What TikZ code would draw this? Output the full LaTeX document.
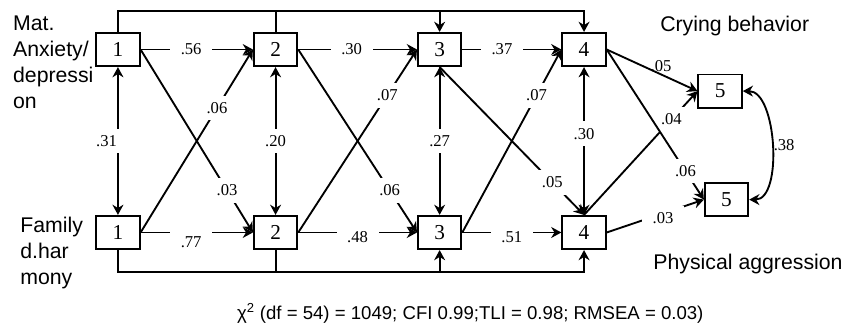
\documentclass[tikz,border=0pt]{standalone}
\usepackage{fontspec}
\setmainfont{Liberation Serif}
\setsansfont{Liberation Sans}
\usetikzlibrary{arrows.meta}

\begin{document}
\begin{tikzpicture}[
    >={Stealth[length=2.7mm, width=2.9mm]},
    wave/.style={draw, line width=1.4pt, minimum width=1.15cm, minimum height=0.88cm, inner sep=0pt, font=\fontsize{16}{19}\selectfont},
    link/.style={->, line width=1.4pt},
    coef/.style={fill=white, inner xsep=8pt, inner ysep=5pt, font=\fontsize{12.5}{15}\selectfont},
    caption/.style={font=\sffamily\fontsize{16}{19.5}\selectfont, align=left, inner sep=0pt},
]
    \useasboundingbox (0,0) rectangle (22.38,8.65);
    \coordinate (topbar) at (0, 8.36);
    \coordinate (botbar) at (0, 1.455);

    % measurement waves
    \node[wave] (anx1) at (3.12, 7.34) {1};
    \node[wave] (anx2) at (7.29, 7.34) {2};
    \node[wave] (anx3) at (11.63, 7.34) {3};
    \node[wave] (anx4) at (15.45, 7.34) {4};
    \node[wave] (har1) at (3.12, 2.50) {1};
    \node[wave] (har2) at (7.29, 2.50) {2};
    \node[wave] (har3) at (11.63, 2.50) {3};
    \node[wave] (har4) at (15.45, 2.50) {4};
    \node[wave] (cry) at (19.05, 6.24) {5};
    \node[wave] (agg) at (19.22, 3.37) {5};

    % variable names and fit
    \node[caption, anchor=north west] (anxlab) at (0.34, 8.23) {Mat.\\Anxiety/\\depressi\\on};
    \node[caption, anchor=north west] (harlab) at (0.53, 2.92) {Family\\d.har\\mony};
    \node[caption, anchor=base west] (crylab) at (17.46, 7.82) {Crying behavior};
    \node[caption, anchor=base west] (agglab) at (17.28, 1.51) {Physical aggression};
    \node[caption, anchor=base, font=\sffamily\fontsize{14}{17}\selectfont] (fitlab) at (12.44, 0.19) {χ\textsuperscript{2} (df = 54) = 1049; CFI 0.99;TLI = 0.98; RMSEA = 0.03)};

    % second-order paths
    \draw[link] (anx1.north) -- (anx1.north |- topbar) -| (anx4.north);
    \draw[line width=1.4pt] (anx2.north) -- (anx2.north |- topbar);
    \draw[link] (anx3.north |- topbar) -- (anx3.north);
    \draw[link] (har1.south) -- (har1.south |- botbar) -| (har4.south);
    \draw[line width=1.4pt] (har2.south) -- (har2.south |- botbar);
    \draw[link] (har3.south |- botbar) -- (har3.south);

    % stability
    \draw[link] (anx1) -- node[coef, pos=0.45] {.56} (anx2);
    \draw[link] (anx2) -- node[coef, pos=0.45] {.30} (anx3);
    \draw[link] (anx3) -- node[coef, pos=0.4] {.37} (anx4);
    \draw[link] (har1) -- node[coef, pos=0.45, yshift=-0.25cm] {.77} (har2);
    \draw[link] (har2) -- node[coef, pos=0.5, yshift=-0.13cm] {.48} (har3);
    \draw[link] (har3) -- node[coef, pos=0.5, yshift=-0.13cm] {.51} (har4);

    % within-wave correlations
    \draw[link, <->] (anx1) -- node[coef, xshift=-0.3cm] {.31} (har1);
    \draw[link, <->] (anx2) -- node[coef] {.20} (har2);
    \draw[link, <->] (anx3) -- node[coef] {.27} (har3);
    \draw[link, <->] (anx4) -- node[coef, pos=0.45] {.30} (har4);

    % cross-lagged
    \draw[link] (anx1.east) -- node[coef, pos=0.77] {.03} (har2.west);
    \draw[link] (har1.east) -- node[coef, pos=0.68] {.06} (anx2.west);
    \draw[link] (anx2.east) -- node[coef, pos=0.77] {.06} (har3.west);
    \draw[link] (har2.east) -- node[coef, pos=0.75] {.07} (anx3.west);
    \draw[link] (anx3.south) -- node[coef, pos=0.78] {.05} (har4.north);
    \draw[link] (har3.east) -- node[coef, pos=0.75] {.07} (anx4.west);

    % outcomes
    \draw[link] (anx4.east) -- node[coef, above, fill=none, inner sep=1pt, pos=0.6] {.05} (cry.west);
    \draw[link] (har4.north) -- node[coef, inner xsep=4pt, pos=0.77] {.04} (cry.west);
    \draw[link] (anx4.east) -- node[coef, inner xsep=4pt, pos=0.81] {.06} (agg.west);
    \draw[link] (har4.east) -- node[coef, pos=0.58, yshift=-0.12cm] {.03} (agg.west);
    \draw[link, <->] (cry.east) to[out=0, in=0, looseness=0.8] node[coef, right, fill=none, inner sep=1pt] {.38} (agg.east);
\end{tikzpicture}
\end{document}
